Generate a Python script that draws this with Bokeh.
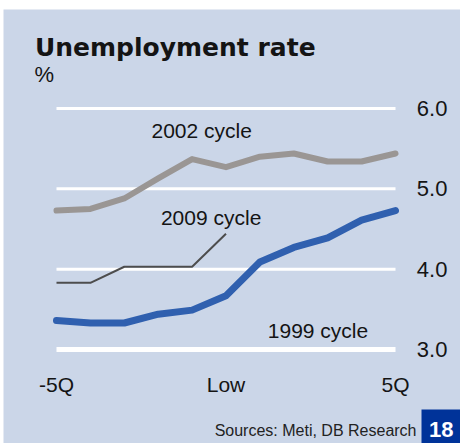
from bokeh.plotting import figure
from bokeh.models import Range1d, Label, BoxAnnotation, Spacer
from bokeh.core.properties import value
from bokeh.layouts import column, row
from bokeh.embed import file_html
from bokeh.resources import INLINE

# ---- data ----
quarters = [-5, -4, -3, -2, -1, 0, 1, 2, 3, 4, 5]
cycle_2002 = [4.73, 4.75, 4.88, 5.13, 5.37, 5.27, 5.40, 5.44, 5.34, 5.34, 5.44]
cycle_2009_x = [-5, -4, -3, -2, -1, 0]
cycle_2009 = [3.83, 3.83, 4.03, 4.03, 4.03, 4.44]
cycle_1999 = [3.36, 3.33, 3.33, 3.44, 3.49, 3.67, 4.09, 4.27, 4.39, 4.61, 4.73]
xticks = [-5, 0, 5]
xtick_labels = ["-5Q", "Low", "5Q"]
yticks = [3.0, 4.0, 5.0, 6.0]
ytick_labels = ["3.0", "4.0", "5.0", "6.0"]

BG = "#CBD6E8"
TXT = "#141414"
FONT = "Liberation Sans"

p = figure(width=457, height=434, output_backend="svg", toolbar_location=None,
           x_range=Range1d(-6.5634, 6.9174), y_range=Range1d(1.8299, 7.2324),
           x_axis_location=None, y_axis_location=None,
           min_border=0, min_border_left=0, min_border_right=0,
           min_border_top=0, min_border_bottom=0)
p.background_fill_color = BG
p.border_fill_color = BG
p.outline_line_color = None
p.xgrid.visible = False
p.ygrid.visible = False

# gridlines spanning the data range
p.segment(x0=[quarters[0]] * 3, x1=[quarters[-1]] * 3, y0=yticks[1:], y1=yticks[1:],
          line_color="white", line_width=3)
p.segment(x0=[quarters[0]], x1=[quarters[-1]], y0=[yticks[0]], y1=[yticks[0]],
          line_color="white", line_width=5)

p.line(quarters, cycle_2002, line_color="#9A9694", line_width=6, line_join="round", line_cap="round")
p.line(cycle_2009_x, cycle_2009, line_color="#4D4D4D", line_width=2)
p.line(quarters, cycle_1999, line_color="#3060AF", line_width=7, line_join="round", line_cap="round")

# tick labels
p.text(x=[5.628] * len(yticks), y=yticks, text=ytick_labels,
       text_font=value(FONT), text_font_size="22px", text_color=TXT,
       text_align="left", text_baseline="middle")
p.text(x=xticks, y=[2.56] * len(xticks), text=xtick_labels,
       text_font=value(FONT), text_font_size="21px", text_color=TXT,
       text_align="center", text_baseline="alphabetic")

def lab(**kw):
    d = dict(text_font=FONT, text_color=TXT, text_baseline="alphabetic")
    d.update(kw)
    p.add_layout(Label(**d))

# series labels (data units)
lab(x=-2.198, y=5.73, text="2002 cycle", text_font_size="21px")
lab(x=-1.920, y=4.647, text="2009 cycle", text_font_size="21px")
lab(x=1.233, y=3.24, text="1999 cycle", text_font_size="21px")

# title, unit, source (screen units)
lab(x=31.5, y=396, x_units="screen", y_units="screen", text="Unemployment rate",
    text_font="DejaVu Sans", text_font_size="25px", text_font_style="bold")
lab(x=31, y=369, x_units="screen", y_units="screen", text="%", text_font_size="22px")
lab(x=413, y=13, x_units="screen", y_units="screen", text="Sources: Meti, DB Research",
    text_font_size="16px", text_align="right", text_color="#222222")

# page-number box
p.add_layout(BoxAnnotation(left=5.767, right=7.2, bottom=1.6, top=2.2531,
                           fill_color="#003399", fill_alpha=1, line_color=None))
lab(x=437.8, y=14, x_units="screen", y_units="screen", text="18", text_font_size="22px",
    text_font_style="bold", text_color="white", text_align="center", text_baseline="middle")

layout = column(Spacer(width=460, height=9), row(Spacer(width=3, height=434), p))
open("out.html", "w").write(file_html(layout, INLINE))
